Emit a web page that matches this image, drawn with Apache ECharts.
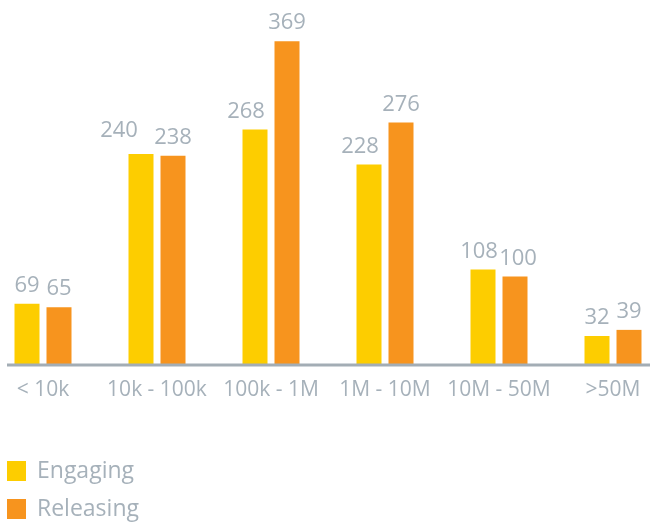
<!DOCTYPE html>
<html><head><meta charset="utf-8">
<script src="https://cdn.jsdelivr.net/npm/echarts@6/dist/echarts.min.js"></script>
<style>html,body{margin:0;padding:0;background:#fff}#c{width:650px;height:524px}</style>
</head><body><div id="c"></div>
<script>
const categories = ['< 10k', '10k - 100k', '100k - 1M', '1M - 10M', '10M - 50M', '>50M'];
const engaging = [69, 240, 268, 228, 108, 32];
const releasing = [65, 238, 369, 276, 100, 39];
const seriesNames = ['Engaging', 'Releasing'];

// label nudges (style only) so that neighbouring value labels do not collide, as in the original
const engagingLabelNudge = [[0, 0], [-22, -5], [-9, 0], [-9, 0], [-4, 0], [0, 0]];
const releasingLabelNudge = [[0, 0], [0, 0], [0, 0], [0, 0], [3, 0], [0, 0]];

const grey = '#a6b1ba';
const font = 'Open Sans';
const chart = echarts.init(document.getElementById('c'));
const lbl = { show: true, position: 'top', distance: 7, color: grey, fontSize: 22, fontFamily: font };
chart.setOption({
  animation: false,
  textStyle: { fontFamily: font },
  grid: { left: -14, width: 684, top: 14, bottom: 160, containLabel: false, outerBoundsMode: 'none' },
  xAxis: {
    type: 'category', data: categories,
    axisLine: { show: false },
    axisTick: { show: false },
    axisLabel: { color: grey, fontSize: 21, fontFamily: font, margin: 16, interval: 0 }
  },
  yAxis: { type: 'value', min: 0, max: 400, show: false, splitLine: { show: false } },
  legend: {
    orient: 'vertical', left: 7, top: 459, padding: 0, itemWidth: 19, itemHeight: 20, itemGap: 14,
    icon: 'rect', textStyle: { color: grey, fontSize: 23, lineHeight: 24, fontFamily: font, padding: [0, 0, 0, 6] }
  },
  graphic: [{ type: 'line', shape: { x1: 7, y1: 365, x2: 650, y2: 365 }, style: { stroke: '#a3adb5', lineWidth: 3 }, z: 10 }],
  series: [
    { name: seriesNames[0], type: 'bar', barWidth: 25, barGap: '28%', itemStyle: { color: '#fdcd00' }, label: lbl,
      data: engaging.map((v, i) => ({ value: v, label: { offset: engagingLabelNudge[i] } })) },
    { name: seriesNames[1], type: 'bar', barWidth: 25, itemStyle: { color: '#f7941e' }, label: lbl,
      data: releasing.map((v, i) => ({ value: v, label: { offset: releasingLabelNudge[i] } })) }
  ]
});
</script></body></html>
